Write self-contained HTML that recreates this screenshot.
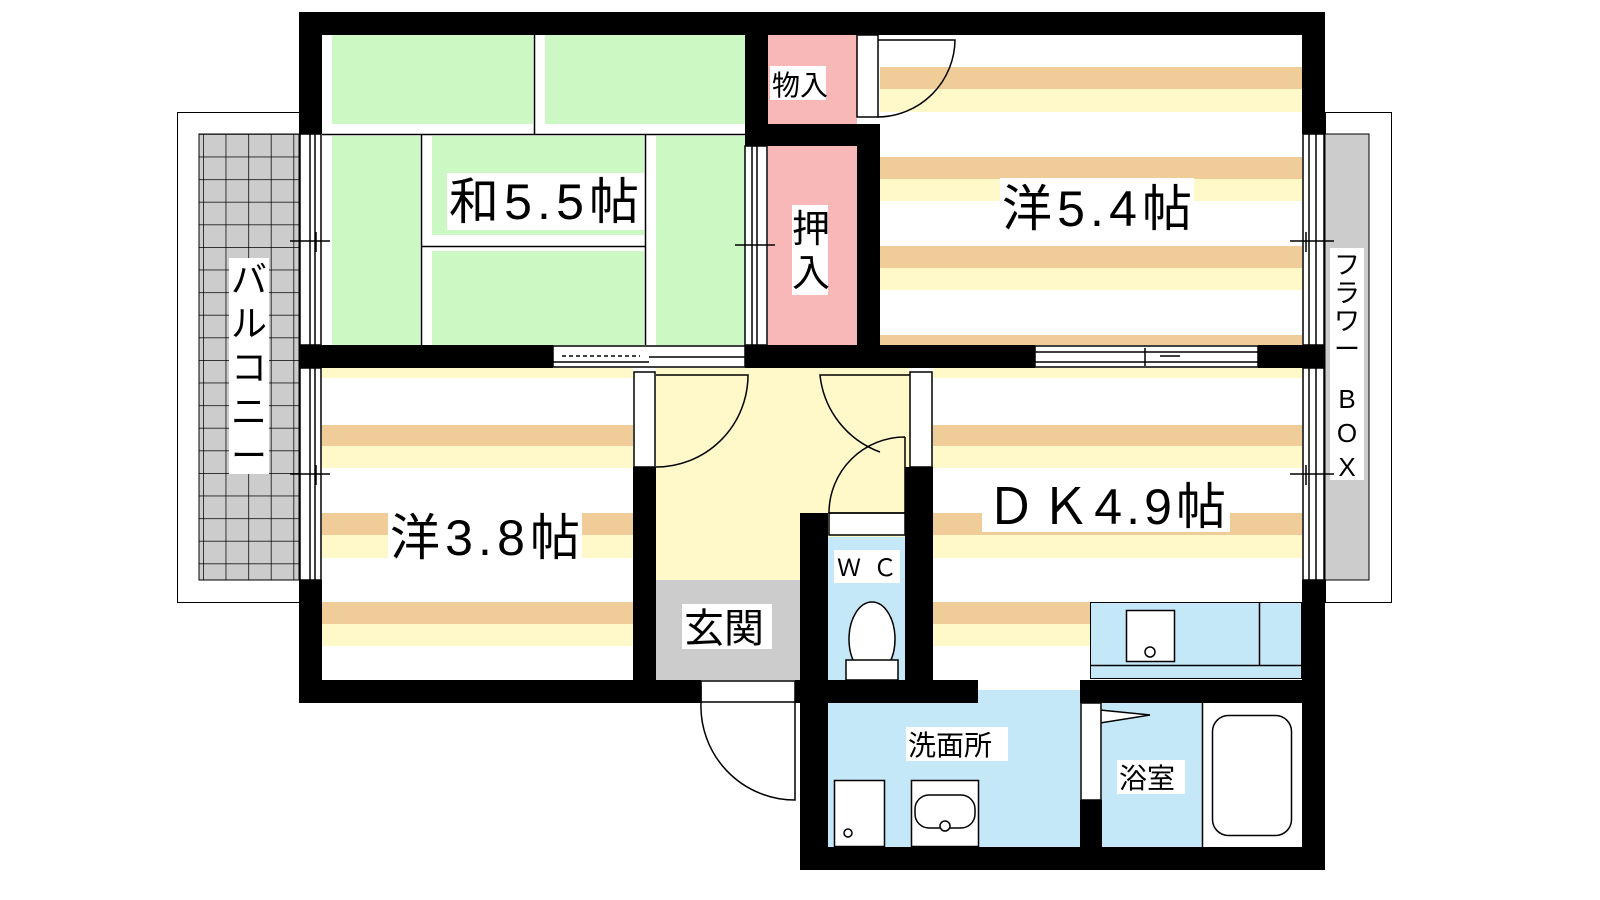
<!DOCTYPE html>
<html><head><meta charset="utf-8"><style>
html,body{margin:0;padding:0;background:#fff;}
svg{display:block}
text{font-family:"Liberation Sans","Noto Sans CJK JP",sans-serif;fill:#000}
</style></head><body>
<svg width="1600" height="900" viewBox="0 0 1600 900" xmlns="http://www.w3.org/2000/svg">
<defs>
<pattern id="grid" x="203" y="134" width="22.6" height="22.6" patternUnits="userSpaceOnUse">
<rect width="22.6" height="22.6" fill="#cccccc"/>
<path d="M0 0H22.6M0 0V22.6" stroke="#000" stroke-width="1.5"/>
</pattern>
</defs>
<!-- balcony -->
<rect x="177.5" y="112.5" width="122" height="490" fill="#fff" stroke="#000"/>
<rect x="199" y="134" width="100" height="446" fill="url(#grid)" stroke="#000"/>
<rect x="229" y="258" width="40" height="216" fill="#fff"/>
<text font-size="36" x="249" y="0" text-anchor="middle"><tspan x="249" y="292">バ</tspan><tspan x="249" y="336">ル</tspan><tspan x="249" y="380">コ</tspan><tspan x="249" y="424">ニ</tspan><tspan x="249" y="468">ー</tspan></text>
<!-- flower box -->
<rect x="1325.5" y="112.5" width="66" height="490" fill="#fff" stroke="#000"/>
<rect x="1325" y="134" width="44" height="446" fill="#cccccc" stroke="#000"/>
<rect x="1330" y="248" width="34" height="232" fill="#fff"/>
<text font-size="26" text-anchor="middle"><tspan x="1347" y="274">フ</tspan><tspan x="1347" y="302">ラ</tspan><tspan x="1347" y="330">ワ</tspan><tspan x="1347" y="358">ー</tspan><tspan x="1347" y="408">B</tspan><tspan x="1347" y="442">O</tspan><tspan x="1347" y="476">X</tspan></text>

<!-- tatami room -->
<rect x="322" y="35" width="423" height="310" fill="#fff"/>
<rect x="332" y="35" width="201" height="89" fill="#ccf8c4"/>
<rect x="545" y="35" width="200" height="89" fill="#ccf8c4"/>
<rect x="332" y="136" width="88" height="209" fill="#ccf8c4"/>
<rect x="432" y="136" width="212" height="99" fill="#ccf8c4"/>
<rect x="432" y="251" width="212" height="94" fill="#ccf8c4"/>
<rect x="656" y="136" width="89" height="209" fill="#ccf8c4"/>
<path d="M322 134.5H745M534.5 35V134M421.5 134V345M645.5 134V345M421 246.5H645" stroke="#000" stroke-width="1.5" fill="none"/>
<rect x="447" y="173" width="197" height="57" fill="#fff"/>
<text font-size="50" x="449" y="219" textLength="190">和5.5帖</text>
<!-- closets -->
<rect x="768" y="35" width="89" height="89" fill="#f8b8b8"/>
<rect x="768" y="146" width="89" height="199" fill="#f8b8b8"/>
<rect x="770" y="66" width="56" height="34" fill="#fff"/>
<text font-size="28" x="772" y="95">物入</text>
<rect x="792" y="205" width="36" height="90" fill="#fff"/>
<text font-size="38" text-anchor="middle"><tspan x="811" y="242">押</tspan><tspan x="811" y="286">入</tspan></text>

<!-- western 5.4 -->
<g fill="#f0cc98"><rect x="880" y="67" width="422" height="22"/><rect x="880" y="157" width="422" height="22"/><rect x="880" y="246" width="422" height="22"/><rect x="880" y="335" width="422" height="10"/></g>
<g fill="#fff8c8"><rect x="880" y="89" width="422" height="23"/><rect x="880" y="179" width="422" height="22"/><rect x="880" y="268" width="422" height="22"/></g>
<rect x="1000" y="178" width="194" height="56" fill="#fff"/>
<text font-size="50" x="1002" y="226" textLength="190">洋5.4帖</text>

<!-- western 3.8 -->
<g fill="#fff8c8"><rect x="322" y="368" width="311" height="10"/><rect x="322" y="446" width="311" height="22"/><rect x="322" y="535" width="311" height="23"/><rect x="322" y="624" width="311" height="22"/></g>
<g fill="#f0cc98"><rect x="322" y="425" width="311" height="21"/><rect x="322" y="513" width="311" height="22"/><rect x="322" y="602" width="311" height="22"/></g>
<rect x="388" y="508" width="194" height="56" fill="#fff"/>
<text font-size="50" x="390" y="555" textLength="190">洋3.8帖</text>

<!-- DK -->
<g fill="#fff8c8"><rect x="933" y="368" width="369" height="10"/><rect x="933" y="446" width="369" height="22"/><rect x="933" y="535" width="369" height="23"/><rect x="933" y="624" width="160" height="22"/></g>
<g fill="#f0cc98"><rect x="933" y="425" width="369" height="21"/><rect x="933" y="513" width="369" height="22"/><rect x="933" y="602" width="160" height="22"/></g>
<rect x="982" y="477" width="248" height="55" fill="#fff"/>
<text font-size="50" x="986" y="524" textLength="240">ＤＫ4.9帖</text>
<!-- kitchen -->
<rect x="1090.5" y="602.5" width="211" height="76" fill="#c4e8f8" stroke="#000"/>
<path d="M1091 665.5H1302M1259.5 603V665" stroke="#000" stroke-width="1.5"/>
<rect x="1126.5" y="610.5" width="48" height="51" fill="#fff" stroke="#000" stroke-width="1.5"/>
<circle cx="1150" cy="652" r="5" fill="#fff" stroke="#000" stroke-width="1.5"/>

<!-- hall -->
<rect x="656" y="368" width="254" height="212" fill="#fff8c8"/>
<rect x="656" y="580" width="144" height="100" fill="#cccccc"/>
<rect x="682" y="604" width="90" height="45" fill="#fff"/>
<text font-size="40" x="684" y="642">玄関</text>
<!-- WC -->
<rect x="828" y="537" width="77" height="143" fill="#c4e8f8"/>
<rect x="834" y="550" width="66" height="33" fill="#fff"/>
<text font-size="24" x="837" y="576" textLength="60">ＷＣ</text>
<ellipse cx="872" cy="639" rx="23" ry="37" fill="#fff" stroke="#000" stroke-width="1.5"/>
<rect x="846" y="660" width="52" height="20" fill="#fff" stroke="#000" stroke-width="1.5"/>

<!-- wash & bath -->
<rect x="823" y="690" width="257" height="157" fill="#c4e8f8"/>
<rect x="1102" y="703" width="100" height="144" fill="#c4e8f8"/>
<rect x="1202" y="703" width="100" height="144" fill="#fff"/>
<path d="M1202.5 703V847" stroke="#000" stroke-width="1.5"/>
<rect x="1212.5" y="715.5" width="79" height="120" rx="16" fill="#fff" stroke="#000" stroke-width="1.5"/>
<rect x="906" y="727" width="102" height="34" fill="#fff"/>
<text font-size="28" x="908" y="755">洗面所</text>
<rect x="1117" y="760" width="68" height="34" fill="#fff"/>
<text font-size="28" x="1119" y="788">浴室</text>
<rect x="834.5" y="780.5" width="50" height="66" fill="#fff" stroke="#000" stroke-width="1.5"/>
<circle cx="848" cy="833" r="4" fill="#fff" stroke="#000" stroke-width="1.5"/>
<rect x="911.5" y="780.5" width="67" height="66" fill="#fff" stroke="#000" stroke-width="1.5"/>
<rect x="915" y="795" width="60" height="33" rx="14" fill="#fff" stroke="#000" stroke-width="1.5"/>
<circle cx="945" cy="826" r="5" fill="#fff" stroke="#000" stroke-width="1.5"/>
<path d="M1100 710L1150 715L1100 723Z" fill="#fff" stroke="#000" stroke-width="1.5"/>

<!-- walls -->
<g fill="#000">
<rect x="299" y="12" width="1026" height="23"/>
<rect x="299" y="12" width="23" height="122"/>
<rect x="299" y="580" width="23" height="123"/>
<rect x="1302" y="12" width="23" height="122"/>
<rect x="1302" y="580" width="23" height="123"/>
<rect x="299" y="345" width="254" height="23"/>
<rect x="745" y="345" width="290" height="23"/>
<rect x="1258" y="345" width="67" height="23"/>
<rect x="745" y="35" width="23" height="99"/>
<rect x="745" y="124" width="135" height="22"/>
<rect x="857" y="124" width="23" height="244"/>
<rect x="299" y="680" width="402" height="23"/>
<rect x="795" y="680" width="183" height="23"/>
<rect x="1080" y="680" width="245" height="23"/>
<rect x="633" y="467" width="23" height="213"/>
<rect x="800" y="513" width="28" height="357"/>
<rect x="905" y="467" width="28" height="213"/>
<rect x="800" y="847" width="525" height="23"/>
<rect x="1302" y="680" width="23" height="190"/>
<rect x="1080" y="800" width="22" height="47"/>
</g>

<!-- windows / frames -->
<g fill="#fff" stroke="#000" stroke-width="1.5">
<rect x="300" y="134" width="21" height="211"/>
<rect x="300" y="368" width="21" height="212"/>
<rect x="1303" y="134" width="21" height="211"/>
<rect x="1303" y="368" width="21" height="212"/>
<rect x="745" y="146" width="22" height="199"/>
<rect x="857" y="35" width="21" height="82"/>
<rect x="553" y="346" width="192" height="21"/>
<rect x="1035" y="346" width="223" height="21"/>
<rect x="634" y="372" width="21" height="95"/>
<rect x="910" y="372" width="22" height="95"/>
<rect x="829" y="513" width="76" height="22"/>
<rect x="701" y="681" width="94" height="21"/>
<rect x="1081" y="703" width="20" height="97"/>
</g>
<g stroke="#000" stroke-width="1.5" fill="none">
<path d="M310 134V345M315 134V345M310 368V580M315 368V580M290 241H330M316 232V252M290 474H330M316 465V485"/>
<path d="M1309 134V345M1316 134V345M1309 368V580M1316 368V580M1290 241H1334M1306 232V252M1290 474H1334M1306 465V485"/>
<path d="M752 146V345M757 146V345M735 245H775M752 238V258"/>
<path d="M649 357H745M553 362H649M1035 352H1258M1035 362H1258M1180 356H1160M1145 348V366"/>
<path d="M562 356H640" stroke-dasharray="4 3"/>
<path d="M878 40H955A78 78 0 0 1 878 117"/>
<path d="M656 375H748A92 92 0 0 1 656 467"/>
<path d="M910 375H820A92 92 0 0 0 880 452"/>
<path d="M905 437V513H829A76 76 0 0 1 905 437"/>
<path d="M701 702V685M795 702V800A94 94 0 0 1 701 702"/>
</g>
</svg>
</body></html>
